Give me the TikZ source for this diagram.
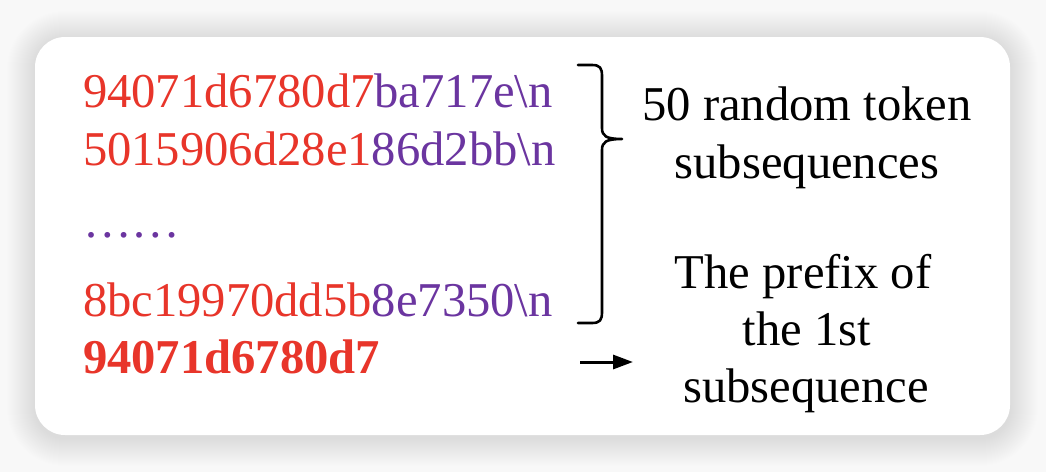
\documentclass[tikz,border=0pt]{standalone}
\usepackage{fontspec}
\setmainfont{Liberation Serif}
\usetikzlibrary{arrows.meta}
\definecolor{tokred}{HTML}{E8352A}
\definecolor{tokpurple}{HTML}{6B35A0}
\definecolor{bggray}{HTML}{F8F8F8}
\begin{document}
\begin{tikzpicture}[x=1pt,y=-1pt,
  txt/.style={inner sep=0pt,outer sep=0pt,anchor=base west,font=\fontsize{48.6}{58}\selectfont},
  ctxt/.style={inner sep=0pt,outer sep=0pt,anchor=base,font=\fontsize{48.6}{58}\selectfont},
  brace/.style={line width=2.6pt,line cap=round,line join=round}]
\useasboundingbox (0,0) rectangle (1046,472);
\fill[bggray] (0,0) rectangle (1046,472);
% soft shadow
\foreach \i in {1,...,28}{
  \fill[black,opacity=0.0048,rounded corners={30pt+\i pt}]
    (35-\i,39-\i) rectangle (1010+\i,438+\i);
}
\node[draw=none,fill=white,rounded corners=30pt,minimum width=975pt,minimum height=398pt,inner sep=0pt]
  (panel) at (522.5,236) {};
\node[txt] (l1) at (83,107) {\color{tokred}94071d6780d7\color{tokpurple}ba717e\textbackslash n};
\node[txt] (l2) at (83,165) {\color{tokred}5015906d28e1\color{tokpurple}86d2bb\textbackslash n};
\node[txt] (l3) at (83,237) {\color{tokpurple}……};
\node[txt] (l4) at (83,316) {\color{tokred}8bc19970dd5b\color{tokpurple}8e7350\textbackslash n};
\node[txt] (l5) at (83,373) {\color{tokred}\bfseries 94071d6780d7};
\node[ctxt] (r1) at (807,120) {50 random token};
\node[ctxt] (r2) at (807,178) {subsequences};
\node[ctxt] (r3) at (803,288) {The prefix of};
\node[ctxt] (r4) at (807,345) {the 1st};
\node[ctxt] (r5) at (806,402) {subsequence};
\coordinate (btop) at (578,65);
\coordinate (btip) at (622,139);
\coordinate (bbot) at (578,323);
\draw[brace] (btop) -- (592,65) .. controls (600,65) and (602,68) .. (602,76)
  -- (602,128) .. controls (602,136) and (606,139) .. (btip)
  (btip) .. controls (606,139) and (602,142) .. (602,150)
  -- (602,312) .. controls (602,320) and (600,323) .. (592,323) -- (bbot);
\coordinate (a1) at (580,362);
\coordinate (a2) at (633,362);
\draw[line width=3pt,-{Triangle[length=20pt,width=14pt]}] (a1) -- (a2);
\end{tikzpicture}
\end{document}
